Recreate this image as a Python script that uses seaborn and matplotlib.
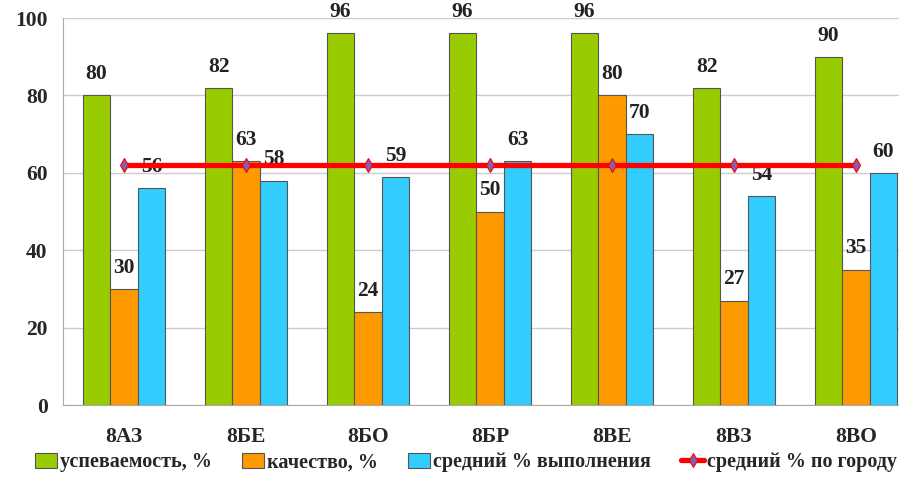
import numpy as np
import pandas as pd
import matplotlib
matplotlib.use("Agg")
import matplotlib.pyplot as plt
import seaborn as sns

# data
classes = ["8АЗ", "8БЕ", "8БО", "8БР", "8ВЕ", "8ВЗ", "8ВО"]
uspev = [80, 82, 96, 96, 96, 82, 90]
kachestvo = [30, 63, 24, 50, 80, 27, 35]
vypolnenie = [56, 58, 59, 63, 70, 54, 60]
po_gorodu = [62, 62, 62, 62, 62, 62, 62]

series_names = ["успеваемость, %", "качество, %", "средний % выполнения"]
line_name = "средний % по городу"
colors = ["#99CC00", "#FF9900", "#33CCFF"]

sns.set_style("white")
plt.rcParams["font.family"] = ["Liberation Serif", "DejaVu Serif"]
plt.rcParams["font.weight"] = "bold"

df = pd.DataFrame({"class": classes * 3,
                   "value": uspev + kachestvo + vypolnenie,
                   "series": np.repeat(series_names, len(classes))})
line_df = pd.DataFrame({"class": classes, "value": po_gorodu})

fig = plt.figure(figsize=(8.99, 4.92), dpi=100)
ax = fig.add_axes([0.0701, 0.1768, 0.950, 0.7866])

sns.barplot(data=df, x="class", y="value", hue="series", palette=colors,
            saturation=1, width=0.675, gap=0, edgecolor="#555555",
            linewidth=0.8, ax=ax, zorder=2)

for cont in ax.containers:
    ax.bar_label(cont, padding=8, fontsize=15.5, fontweight="bold",
                 color="#222222", fmt="%d")

sns.lineplot(data=line_df, x="class", y="value", color="#FF0000", lw=3.8,
             marker="d", markersize=7, markerfacecolor="#8060B0",
             markeredgecolor="#FF0000", markeredgewidth=0.8,
             label=line_name, ax=ax, zorder=3)

ax.set_xlim(-0.5, 6.5)
ax.set_ylim(0, 100)
ax.set_yticks(range(0, 101, 20))
ax.set_xticks(np.arange(-0.5, 7), minor=True)
ax.tick_params(axis="x", which="major", length=0, pad=16, labelsize=15.5)
ax.tick_params(axis="x", which="minor", length=5, color="#AAAAAA")
ax.tick_params(axis="y", length=5, color="#AAAAAA", labelsize=15.5, pad=6)
ax.grid(axis="y", color="#CCCCCC", lw=1, zorder=0)
ax.set_axisbelow(True)
for s in ["top", "right"]:
    ax.spines[s].set_visible(False)
for s in ["left", "bottom"]:
    ax.spines[s].set_color("#AAAAAA")
ax.set_xlabel("")
ax.set_ylabel("")
for lab in ax.get_xticklabels() + ax.get_yticklabels():
    lab.set_fontweight("bold")

handles, labels = ax.get_legend_handles_labels()
ax.legend_.remove()
fig.legend(handles, labels, loc="center", bbox_to_anchor=(0.518, 0.06), ncol=4,
           frameon=False, fontsize=14.5, handlelength=1.1, handleheight=0.8,
           handletextpad=0.15, columnspacing=1.5)

fig.savefig("out.png", dpi=100)
